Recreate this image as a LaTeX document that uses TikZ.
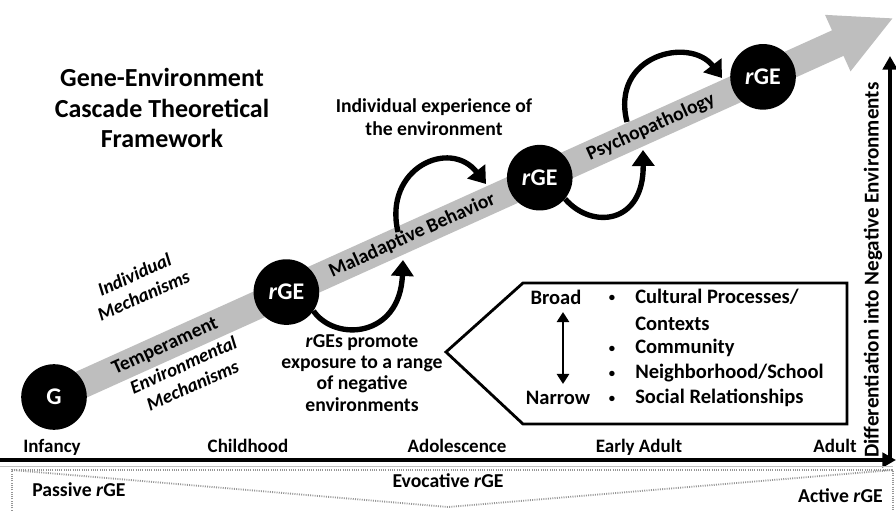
\documentclass[tikz,border=0pt]{standalone}
\usepackage{fontspec}
\setmainfont{Carlito}
\usetikzlibrary{arrows.meta}
\definecolor{shaftgray}{RGB}{190,190,190}
\definecolor{dotgray}{RGB}{150,150,150}
\tikzset{
  gcirc/.style={circle, fill=black, text=white, minimum size=1.64cm, inner sep=0pt, font=\fontsize{17}{19}\selectfont\bfseries},
  lbl/.style={font=\fontsize{14}{16}\selectfont\bfseries, inner sep=0pt},
  item/.style={font=\fontsize{14.6}{16}\selectfont\bfseries, inner sep=0pt, anchor=west},
  tick/.style={font=\fontsize{13.5}{16}\selectfont\bfseries, inner sep=0pt, anchor=base},
  curvearrow/.style={line width=3.8pt, -{Triangle[width=0.55cm,length=0.4cm]}},
  axis/.style={line width=2.6pt, -{Triangle[width=0.36cm,length=0.34cm]}},
  dotline/.style={dotgray, line width=1.3pt, dash pattern=on 0.7pt off 0.9pt},
}

\begin{document}
\begin{tikzpicture}[x=0.025cm, y=-0.025cm]
        \useasboundingbox (0,0) rectangle (896,511);
        \node[font=\fontsize{18.5}{22}\selectfont\bfseries, align=center] (title) at (162,108) {Gene-Environment\\Cascade Theoretical\\Framework};

        % cascade arrow
        \begin{scope}[shift={(54,397)}, rotate=24.3]
        \fill[shaftgray] (0,-14) -- (860,-14) -- (860,-31) -- (920,0) -- (860,31) -- (860,14) -- (0,14) -- cycle;
        \node[gcirc] (g) at (0,0) {G};
        \node[gcirc] (r1) at (255,0) {\textit{r}GE};
        \node[gcirc] (r2) at (533,0) {\textit{r}GE};
        \node[gcirc] (r3) at (778,0) {\textit{r}GE};
        \node[lbl, rotate=24.3] (temp) at (122,0) {Temperament};
        \node[lbl, rotate=24.3] (mal) at (393,0) {Maladaptive Behavior};
        \node[lbl, rotate=24.3] (psy) at (655,0) {Psychopathology};
        \end{scope}

        \node[lbl, font=\fontsize{13.5}{16}\selectfont\bfseries\itshape, align=center, rotate=24] (indm) at (139,285) {Individual\\Mechanisms};
        \node[lbl, font=\fontsize{13.5}{16}\selectfont\bfseries\itshape, align=center, rotate=24] (envm) at (188,375) {Environmental\\Mechanisms};

        \node[lbl, align=center] (exp) at (434,117) {Individual experience of\\the environment};
        \node[lbl, align=center, font=\fontsize{14}{15}\selectfont\bfseries] (prom) at (362,373) {\textit{r}GEs promote\\exposure to a range\\of negative\\environments};

        % loops
        \coordinate (t1) at (403,260);
        \coordinate (s2) at (398,232);
        \coordinate (t2) at (486,184);
        \coordinate (t3) at (643,150);
        \coordinate (s4) at (627,122);
        \coordinate (t4) at (722,78);
        \draw[curvearrow] (r1.-35) .. controls (335,342) and (400,338) .. (t1);
        \draw[curvearrow] (s2) .. controls (383,168) and (450,138) .. (t2);
        \draw[curvearrow] (r2.-40) .. controls (592,230) and (644,224) .. (t3);
        \draw[curvearrow] (s4) .. controls (610,55) and (690,36) .. (t4);

        % contexts box
        \draw[line width=2pt, line join=miter] (446,352) -- (523,283) -- (847,283) -- (847,424) -- (523,424) -- cycle;
        \node[item, anchor=center] (broad) at (556,297) {Broad};
        \node[item, anchor=center] (narrow) at (558,398) {Narrow};
        \coordinate (ba) at (563,312);
        \coordinate (bb) at (563,384);
        \draw[line width=1.8pt, {Triangle[width=0.3cm,length=0.25cm]}-{Triangle[width=0.3cm,length=0.25cm]}] (ba) -- (bb);
        \node[font=\fontsize{9}{10}\selectfont\bfseries] (b1) at (612,298) {•};
        \node[font=\fontsize{9}{10}\selectfont\bfseries] (b3) at (612,349) {•};
        \node[font=\fontsize{9}{10}\selectfont\bfseries] (b4) at (612,374) {•};
        \node[font=\fontsize{9}{10}\selectfont\bfseries] (b5) at (612,399) {•};
        \node[item] (i1) at (635,297) {Cultural Processes/};
        \node[item] (i2) at (635,324) {Contexts};
        \node[item] (i3) at (635,348) {Community};
        \node[item] (i4) at (635,373) {Neighborhood/School};
        \node[item] (i5) at (635,398) {Social Relationships};

        % axes
        \coordinate (tl0) at (0,460);
        \coordinate (tl1) at (896,460);
        \coordinate (ax0) at (890,462);
        \coordinate (ax1) at (890,56);
        \draw[axis] (tl0) -- (tl1);
        \draw[axis] (ax0) -- (ax1);
        \node[lbl, font=\fontsize{15}{17}\selectfont\bfseries, rotate=90] (diff) at (873,270) {Differentiation into Negative Environments};
        \node[tick] (inf) at (52,452) {Infancy};
        \node[tick] (chi) at (248,452) {Childhood};
        \node[tick] (ado) at (457,452) {Adolescence};
        \node[tick] (ea) at (639,452) {Early Adult};
        \node[tick] (ad) at (835,452) {Adult};

        % rGE types
        \draw[dotgray!60, line width=0.6pt] (0,466) -- (893,466);
        \draw[dotline] (12,515) -- (12,470) -- (893,470) -- (893,515);
        \coordinate (vb) at (448,507);
        \draw[dotline] (12,470) -- (vb) -- (893,470);
        \node[lbl, anchor=west] (pas) at (32,490) {Passive \textit{r}GE};
        \node[lbl] (evo) at (448,481) {Evocative \textit{r}GE};
        \node[lbl, anchor=east] (act) at (883,496) {Active \textit{r}GE};
        \end{tikzpicture}
\end{document}
